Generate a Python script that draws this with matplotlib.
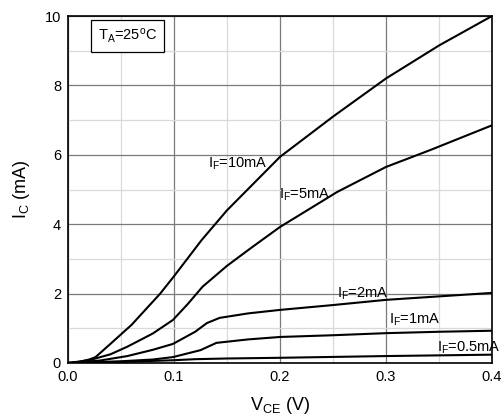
import matplotlib
matplotlib.use("Agg")
import matplotlib.pyplot as plt
from matplotlib.ticker import MultipleLocator

plt.rcParams['font.family'] = ['Liberation Sans', 'DejaVu Sans']
plt.rcParams['mathtext.fontset'] = 'custom'
plt.rcParams['mathtext.rm'] = 'Liberation Sans'
plt.rcParams['mathtext.it'] = 'Liberation Sans'

# curve data (V_CE in V, I_C in mA)
vce_10 = [0, 0.01, 0.02, 0.026, 0.04, 0.06, 0.087, 0.1, 0.113, 0.126, 0.15, 0.2, 0.25, 0.3, 0.35, 0.4]
ic_10 = [0, 0.03, 0.1, 0.17, 0.55, 1.1, 2.0, 2.5, 3.02, 3.54, 4.4, 5.94, 7.1, 8.2, 9.15, 10.0]

vce_5 = [0, 0.02, 0.04, 0.056, 0.08, 0.099, 0.113, 0.127, 0.15, 0.172, 0.2, 0.254, 0.3, 0.342, 0.4]
ic_5 = [0, 0.08, 0.25, 0.47, 0.85, 1.24, 1.7, 2.2, 2.8, 3.3, 3.92, 4.93, 5.65, 6.14, 6.85]

vce_2 = [0, 0.03, 0.056, 0.08, 0.099, 0.12, 0.131, 0.143, 0.17, 0.2, 0.25, 0.3, 0.35, 0.4]
ic_2 = [0, 0.07, 0.2, 0.38, 0.55, 0.9, 1.15, 1.3, 1.43, 1.53, 1.67, 1.82, 1.92, 2.02]

vce_1 = [0, 0.05, 0.08, 0.099, 0.125, 0.14, 0.17, 0.2, 0.25, 0.3, 0.35, 0.4]
ic_1 = [0, 0.05, 0.1, 0.17, 0.37, 0.58, 0.68, 0.75, 0.8, 0.86, 0.9, 0.93]

vce_05 = [0, 0.05, 0.1, 0.12, 0.15, 0.2, 0.3, 0.4]
ic_05 = [0, 0.03, 0.08, 0.11, 0.13, 0.15, 0.2, 0.24]

curves = [(vce_10, ic_10), (vce_5, ic_5), (vce_2, ic_2), (vce_1, ic_1), (vce_05, ic_05)]

# label text and where it sits (data coords, left edge / vertical centre)
labels = [r'$\mathregular{I_F}$=10mA', r'$\mathregular{I_F}$=5mA', r'$\mathregular{I_F}$=2mA',
          r'$\mathregular{I_F}$=1mA', r'$\mathregular{I_F}$=0.5mA']
label_x = [0.132, 0.199, 0.254, 0.303, 0.348]
label_y = [5.75, 4.85, 1.98, 1.24, 0.45]

fig = plt.figure(figsize=(5.01, 4.17), dpi=100)
ax = fig.add_axes([0.1357, 0.1295, 0.8463, 0.8321])

for x, y in curves:
    ax.plot(x, y, color='black', lw=1.5, zorder=3)

for txt, lx, ly in zip(labels, label_x, label_y):
    ax.text(lx, ly, txt, fontsize=10.5, va='center', ha='left', zorder=4)

ax.set_xlim(0, 0.4)
ax.set_ylim(0, 10)
ax.xaxis.set_minor_locator(MultipleLocator(0.05))
ax.yaxis.set_major_locator(MultipleLocator(2))
ax.yaxis.set_minor_locator(MultipleLocator(1))
ax.set_xticks([0, 0.1, 0.2, 0.3, 0.4])
ax.set_xticklabels(['0.0', '0.1', '0.2', '0.3', '0.4'])
ax.grid(which='major', color='#7a7a7a', lw=0.9, zorder=1)
ax.grid(which='minor', color='#d9d9d9', lw=0.9, zorder=0)
ax.tick_params(which='both', length=0, labelsize=10.5, pad=5)
for s in ax.spines.values():
    s.set_color('black')
    s.set_linewidth(1.2)

ax.set_xlabel(r'$\mathregular{V_{CE}}$ (V)', fontsize=13, labelpad=8)
ax.set_ylabel(r'$\mathregular{I_C}$ (mA)', fontsize=13, labelpad=9)

ax.text(0.028, 9.42, r'$\mathregular{T_A}$=25$\mathregular{^o}$C', fontsize=10.5, va='center', ha='left',
        zorder=5, bbox=dict(boxstyle='square,pad=0.45', fc='white', ec='black', lw=0.9))

fig.savefig('out.png', dpi=100)
